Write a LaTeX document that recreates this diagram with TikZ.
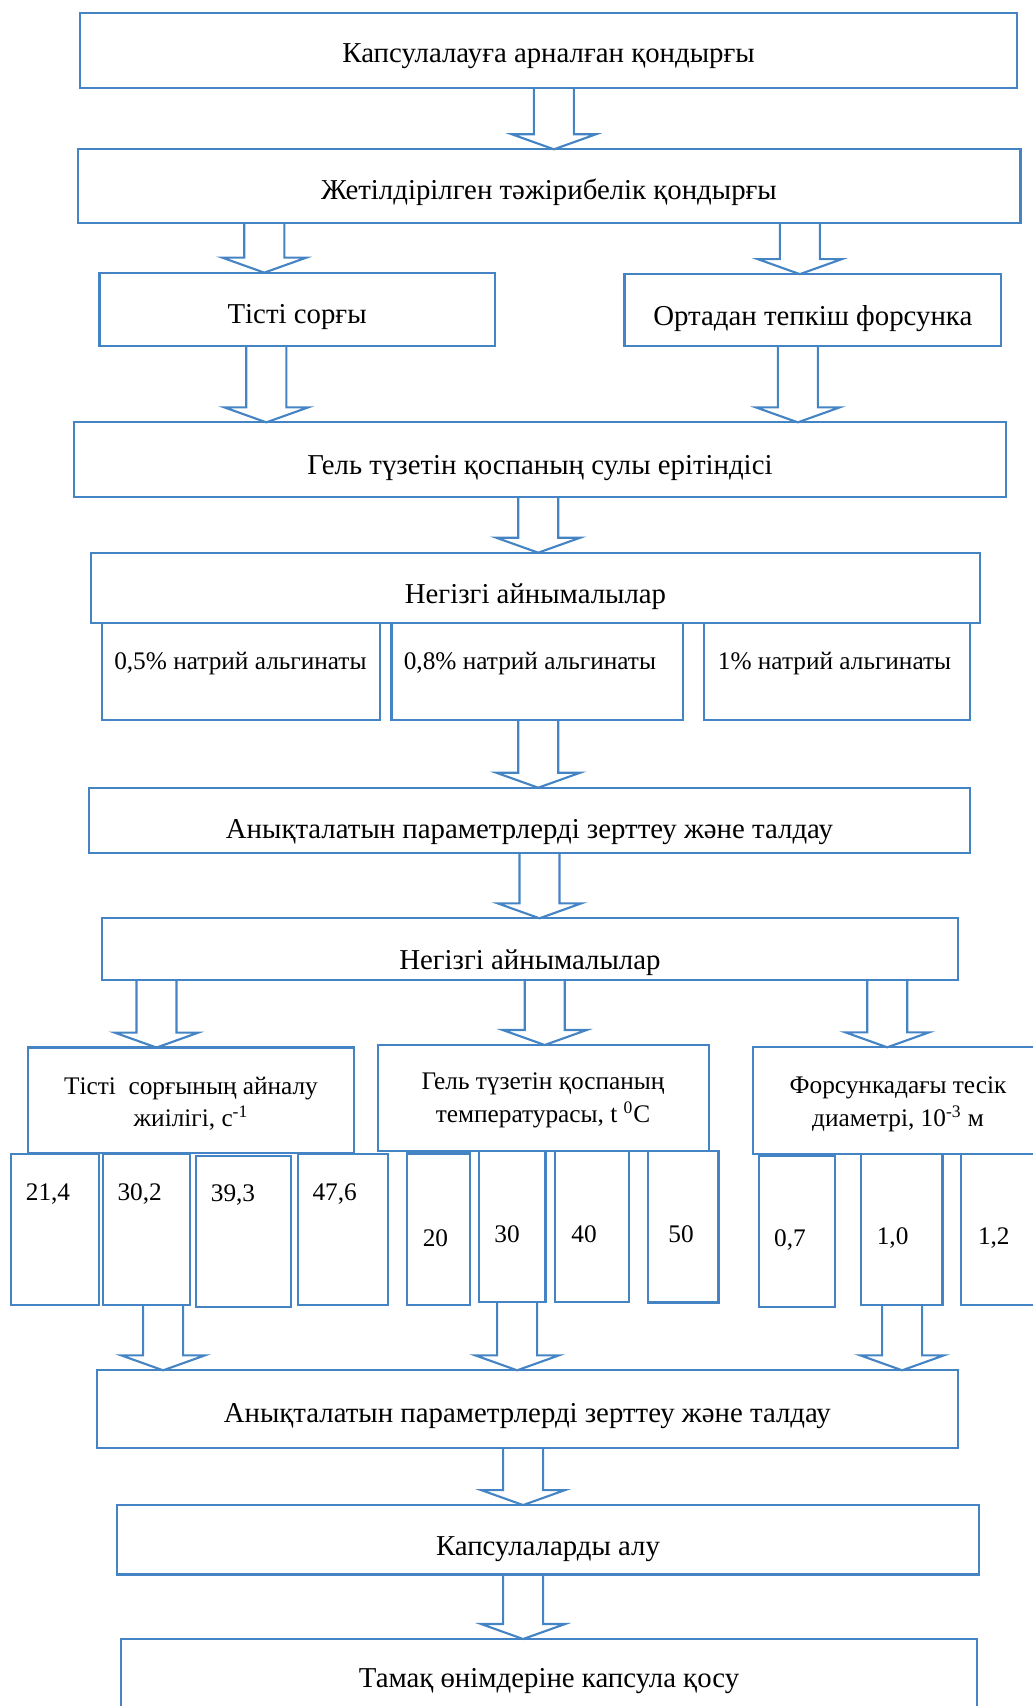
\documentclass[tikz,border=0pt]{standalone}
\usepackage{fontspec}
\setmainfont{Liberation Serif}
\usetikzlibrary{calc}
\definecolor{flowblue}{RGB}{68,132,196}
\tikzset{
    stage/.style={draw=flowblue, line width=1.3pt, inner sep=0pt, outer sep=0pt,
        font=\fontsize{16.4}{19}\selectfont},
    lowered/.style={text height=#1, text depth=0pt},
    cell/.style={draw=flowblue, line width=1.3pt, inner sep=0pt, outer sep=0pt},
    cellnote/.style={inner sep=0pt, align=center, font=\fontsize{14.4}{18.5}\selectfont},
    wh/.style 2 args={minimum width=#1*0.02cm, minimum height=#2*0.02cm},
    hollow/.style={draw=flowblue, line width=1.2pt, line join=miter}
}
% hollow block arrow: #1 = x, #2 = upper node, #3 = lower node
\newcommand{\hollowarrow}[3]{%
    \draw[hollow] (#1-20,0 |- #2.south) -- ($(#1-20,0 |- #3.north)+(0,-15)$)
        -- ++(-22,0) -- (#1,0 |- #3.north) -- ++(42,-15) -- ++(-22,0)
        -- (#1+20,0 |- #2.south);
}

\begin{document}
\begin{tikzpicture}[x=0.02cm, y=-0.02cm]
    \useasboundingbox (0,0) rectangle (1033,1706);
    \clip (0,0) rectangle (1033,1706);

    % upper chain
    \node[stage, lowered=13.5pt, wh={936.7}{74.4}] (setup) at (548.6,50.5) {Капсулалауға арналған қондырғы};
    \node[stage, lowered=14.8pt, wh={942.7}{74}] (rig) at (549,186.3) {Жетілдірілген тәжірибелік қондырғы};
    \node[stage, lowered=16.6pt, wh={395.4}{73.3}] (pump) at (297.1,309.3) {Тісті сорғы};
    \node[stage, lowered=17.8pt, wh={376.5}{71.7}] (nozzle) at (812.8,310) {Ортадан тепкіш форсунка};
    \node[stage, lowered=16.6pt, wh={932}{74.7}] (solution) at (540,459.7) {Гель түзетін қоспаның сулы ерітіндісі};

    % alginate variables
    \node[stage, lowered=17.8pt, wh={888.5}{70.6}] (vars1) at (535.5,588) {Негізгі айнымалылар};
    \node[cell, wh={278.4}{96.7}] (alg1) at (241.1,671.7) {};
    \node[cell, wh={291.5}{96.7}] (alg2) at (537.2,671.7) {};
    \node[cell, wh={265.9}{96.7}] (alg3) at (837,671.7) {};
    \node[cellnote] (alg1t) at (240.4,664) {0,5\% натрий альгинаты};
    \node[cellnote] (alg2t) at (529.9,664) {0,8\% натрий альгинаты};
    \node[cellnote] (alg3t) at (834.5,664) {1\% натрий альгинаты};

    \node[stage, lowered=20.3pt, wh={881.1}{65}] (study1) at (529.4,820.2) {Анықталатын параметрлерді зерттеу және талдау};
    \node[stage, lowered=22.7pt, wh={856}{62}] (vars2) at (529.9,949.3) {Негізгі айнымалылар};

    % process variables
    \node[cell, wh={326.2}{105.5}] (freq) at (190.9,1100.3) {};
    \node[cell, wh={330.9}{106}] (temp) at (543.2,1098) {};
    \node[cell, wh={290.6}{106.4}] (hole) at (898,1100.5) {};
    \node[cellnote] (freqt) at (191,1104) {Тісті\ \ сорғының айналу\\жиілігі, с\textsuperscript{-1}};
    \node[cellnote] (tempt) at (543,1100.5) {Гель түзетін қоспаның\\температурасы, t \textsuperscript{0}C};
    \node[cellnote] (holet) at (898,1104.5) {Форсункадағы тесік\\диаметрі, 10\textsuperscript{-3} м};

    \node[cell, wh={88.3}{151}] (f1) at (55.2,1229.5) {};
    \node[cell, wh={87.3}{151}] (f2) at (146.4,1229.5) {};
    \node[cell, wh={95}{150.7}] (f3) at (243.5,1231.3) {};
    \node[cell, wh={90.6}{151}] (f4) at (343,1229.5) {};
    \node[cellnote] (f1t) at (48,1194) {21,4};
    \node[cellnote] (f2t) at (139.7,1194) {30,2};
    \node[cellnote] (f3t) at (233,1195.5) {39,3};
    \node[cellnote] (f4t) at (334.7,1194) {47,6};

    \node[cell, wh={63.1}{151.7}] (t1) at (438.7,1229.2) {};
    \node[cell, wh={66.3}{150.7}] (t2) at (512.2,1226.3) {};
    \node[cell, wh={74}{150.7}] (t3) at (592.2,1226.3) {};
    \node[cell, wh={70.7}{151.3}] (t4) at (683,1226.7) {};
    \node[cellnote] (t1t) at (435.4,1238) {20};
    \node[cellnote] (t2t) at (507,1234.5) {30};
    \node[cellnote] (t3t) at (584,1234.5) {40};
    \node[cellnote] (t4t) at (681,1234.5) {50};

    \node[cell, wh={76.2}{151}] (d1) at (796.8,1231.2) {};
    \node[cell, wh={81.6}{151}] (d2) at (901.8,1229.5) {};
    \node[cell, wh={88}{151}] (d3) at (1005,1229.5) {};
    \node[cellnote] (d1t) at (790,1240) {0,7};
    \node[cellnote] (d2t) at (892.6,1238) {1,0};
    \node[cellnote] (d3t) at (993.8,1238) {1,2};

    % lower chain
    \node[stage, lowered=15.1pt, wh={861.1}{77.4}] (study2) at (527.3,1409) {Анықталатын параметрлерді зерттеу және талдау};
    \node[stage, lowered=17.8pt, wh={861.9}{69.3}] (capsules) at (548,1539.7) {Капсулаларды алу};
    \node[stage, lowered=8.8pt, wh={855.9}{82}] (food) at (549,1680) {Тамақ өнімдеріне капсула қосу};

    % arrows
    \hollowarrow{553.9}{setup}{rig}
    \hollowarrow{264.3}{rig}{pump}
    \hollowarrow{799.8}{rig}{nozzle}
    \hollowarrow{266.3}{pump}{solution}
    \hollowarrow{797.8}{nozzle}{solution}
    \hollowarrow{538.2}{solution}{vars1}
    \hollowarrow{538.2}{alg2}{study1}
    \hollowarrow{539.5}{study1}{vars2}
    \hollowarrow{156.5}{vars2}{freq}
    \hollowarrow{544.7}{vars2}{temp}
    \hollowarrow{887.2}{vars2}{hole}
    \hollowarrow{163.1}{f2}{study2}
    \hollowarrow{517.1}{t2}{study2}
    \hollowarrow{902.1}{d2}{study2}
    \hollowarrow{523.1}{study2}{capsules}
    \hollowarrow{523.1}{capsules}{food}
\end{tikzpicture}
\end{document}
